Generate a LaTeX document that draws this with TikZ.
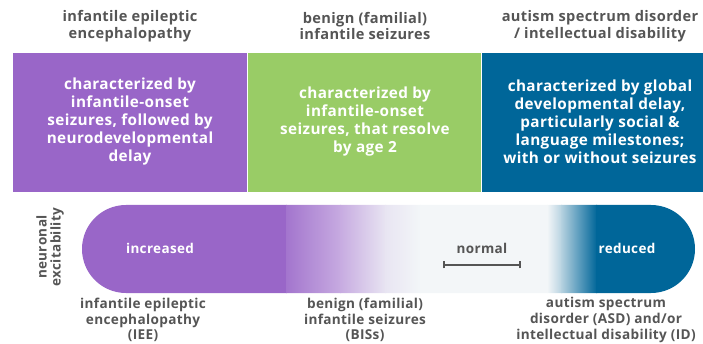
\documentclass[tikz,border=0pt]{standalone}
\usepackage{fontspec}
\setmainfont{Open Sans}[LetterSpace=2.5]
\definecolor{cpurple}{HTML}{9966C8}
\definecolor{cgreen}{HTML}{99CC66}
\definecolor{cblue}{HTML}{006699}
\definecolor{cgray}{HTML}{555555}
\definecolor{offw}{HTML}{F3F6F8}
\tikzset{
  boxtext/.style={text=white, align=center, font=\bfseries\fontsize{15.3}{18}\selectfont},
  head/.style={text=cgray, align=center, font=\bfseries\fontsize{14.6}{16.8}\selectfont},
  foot/.style={text=cgray, align=center, font=\bfseries\fontsize{13.6}{15.6}\selectfont},
  barlabel/.style={font=\bfseries\fontsize{13.5}{16}\selectfont},
}
\begin{document}
\begin{tikzpicture}[x=1pt,y=-1pt]
\useasboundingbox (0,0) rectangle (703,344);
% boxes
\fill[cpurple] (13,53) rectangle (247,192);
\fill[cgreen] (248,53) rectangle (481,192);
\fill[cblue] (482,53) rectangle (703,192);
% headers
\node[head] (h1) at (130,26) {infantile epileptic\\encephalopathy};
\node[head] (h2) at (365,26) {benign (familial)\\infantile seizures};
\node[head] (h3) at (600,26) {autism spectrum disorder\\/ intellectual disability};
% box texts
\node[boxtext] (t1) at (130,122) {characterized by\\infantile-onset\\seizures, followed by\\neurodevelopmental\\delay};
\node[boxtext] (t2) at (365,122) {characterized by\\infantile-onset\\seizures, that resolve\\by age 2};
\node[boxtext] (t3) at (600,122) {characterized by global\\developmental delay,\\particularly social \&\\language milestones;\\with or without seizures};
% bar
\begin{scope}
\clip[rounded corners=44pt] (82,205) rectangle (695,293);
\fill[cpurple] (80,203) rectangle (287,295);
\shade[left color=cpurple!90!white, right color=cpurple!55!white] (286,203) rectangle (341,295);
\shade[left color=cpurple!55!white, right color=cpurple!12!offw] (340,203) rectangle (386,295);
\shade[left color=cpurple!12!offw, right color=offw] (385,203) rectangle (421,295);
\fill[offw] (420,203) rectangle (548,295);
\shade[left color=offw, right color=cblue!25!offw] (547,203) rectangle (562,295);
\shade[left color=cblue!25!offw, right color=cblue] (561,203) rectangle (597,295);
\fill[cblue] (596,203) rectangle (697,295);
\end{scope}
% bar labels
\node[barlabel, text=white] (inc) at (160,248) {increased};
\node[barlabel, text=cgray] (nor) at (482,248) {normal};
\node[barlabel, text=white] (red) at (627,248) {reduced};
% scale bar
\coordinate (sa) at (444,265);
\coordinate (sb) at (520,265);
\draw[cgray, line width=1.6pt] (sa) -- (sb);
\draw[cgray, line width=1.4pt] ([yshift=-3.5pt]sa) -- ([yshift=3.5pt]sa);
\draw[cgray, line width=1.4pt] ([yshift=-3.5pt]sb) -- ([yshift=3.5pt]sb);
% axis label
\node[head, rotate=90, font=\bfseries\fontsize{13.5}{14}\selectfont] (ax) at (50,247) {neuronal\\excitability};
% footers
\node[foot] (f1) at (143,320) {infantile epileptic\\encephalopathy\\(IEE)};
\node[foot] (f2) at (365,320) {benign (familial)\\infantile seizures\\(BISs)};
\node[foot] (f3) at (606,320) {autism spectrum\\disorder (ASD) and/or\\intellectual disability (ID)};
\end{tikzpicture}
\end{document}
